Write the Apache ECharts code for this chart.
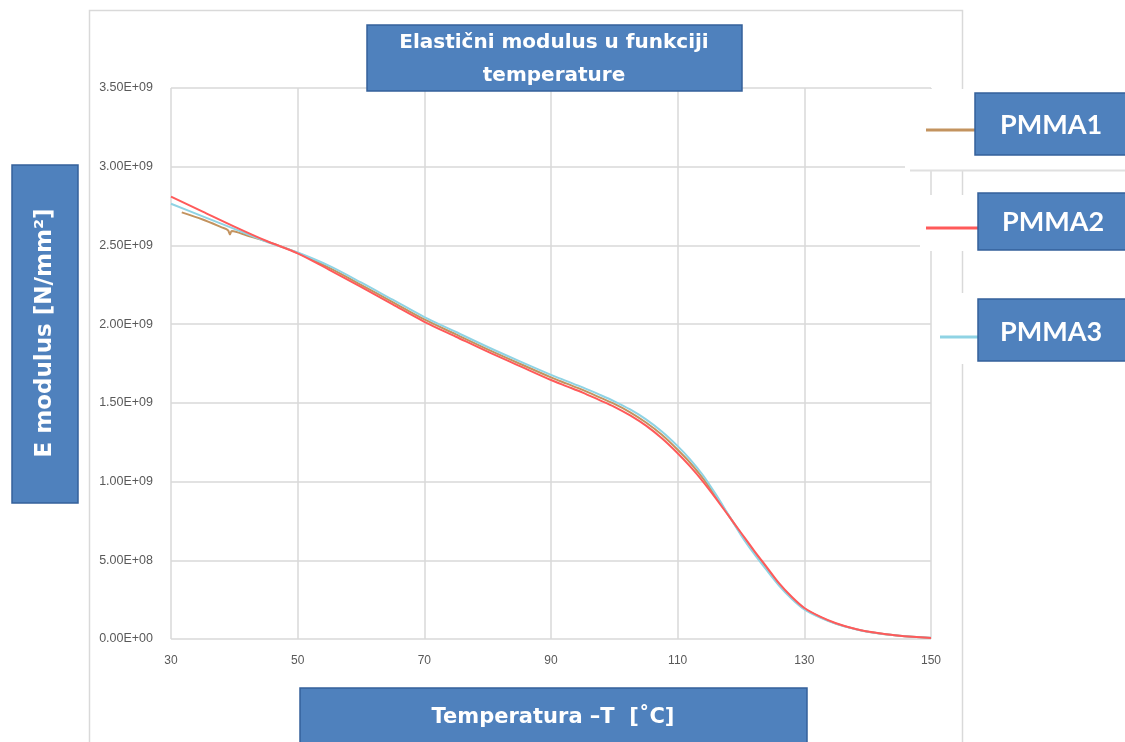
<!DOCTYPE html>
<html>
<head>
<meta charset="utf-8">
<script src="https://cdn.jsdelivr.net/npm/echarts@6/dist/echarts.min.js"></script>
<style>
  html, body { margin: 0; padding: 0; background: #ffffff; }
  #chart { width: 1125px; height: 742px; }
</style>
</head>
<body>
<div id="chart"></div>
<script>
// Temperature axis ticks [°C] and modulus axis ticks [N/mm²]
const xTicks = [30, 50, 70, 90, 110, 130, 150];
const yMin = 0, yMax = 3.5e9, yStep = 0.5e9;

const seriesNames = ['PMMA1', 'PMMA2', 'PMMA3'];
const seriesColors = ['#C3935F', '#FF5A5A', '#8FD3E4'];

// PMMA1 measurement: temperature [°C] and E modulus [N/mm²]
const pmma1Temp = [31.7, 35, 38, 39, 39.3, 39.6, 42, 45,
  50, 55, 60, 65, 70, 75, 80, 85, 90,
  92.5, 95, 97.5, 100, 102.5, 105, 107.5, 110,
  112, 114, 116, 118, 120, 122, 124, 126, 128, 130,
  132.5, 135, 137.5, 140, 145, 150];
const pmma1E = [2.71e9, 2.665e9, 2.615e9, 2.597e9, 2.57e9, 2.592e9, 2.563e9, 2.527e9,
  2.452e9, 2.357e9, 2.25e9, 2.14e9, 2.03e9, 1.935e9, 1.84e9, 1.75e9, 1.662e9,
  1.622e9, 1.582e9, 1.538e9, 1.493e9, 1.44e9, 1.375e9, 1.297e9, 1.202e9,
  1.118e9, 1.02e9, 0.908e9, 0.788e9, 0.668e9, 0.555e9, 0.45e9, 0.348e9, 0.262e9, 0.193e9,
  0.139e9, 0.098e9, 0.069e9, 0.046e9, 0.02e9, 0.007e9];

// PMMA2 and PMMA3 share the same temperature steps
const sharedTemp = [30, 35, 40, 45, 50, 55, 60, 65, 70, 75, 80, 85, 90,
  92.5, 95, 97.5, 100, 102.5, 105, 107.5, 110,
  112, 114, 116, 118, 120, 122, 124, 126, 128, 130,
  132.5, 135, 137.5, 140, 145, 150];
const pmma2E = [2.81e9, 2.715e9, 2.62e9, 2.53e9, 2.45e9, 2.345e9, 2.236e9, 2.125e9, 2.015e9, 1.92e9, 1.825e9, 1.735e9, 1.645e9,
  1.605e9, 1.565e9, 1.52e9, 1.475e9, 1.42e9, 1.355e9, 1.275e9, 1.18e9,
  1.095e9, 1.0e9, 0.895e9, 0.785e9, 0.675e9, 0.565e9, 0.46e9, 0.355e9, 0.268e9, 0.197e9,
  0.142e9, 0.1e9, 0.07e9, 0.047e9, 0.02e9, 0.006e9];
const pmma3E = [2.765e9, 2.685e9, 2.605e9, 2.525e9, 2.455e9, 2.37e9, 2.265e9, 2.155e9, 2.045e9, 1.95e9, 1.855e9, 1.765e9, 1.678e9,
  1.638e9, 1.598e9, 1.555e9, 1.51e9, 1.458e9, 1.395e9, 1.318e9, 1.225e9,
  1.14e9, 1.04e9, 0.92e9, 0.79e9, 0.66e9, 0.545e9, 0.44e9, 0.34e9, 0.256e9, 0.188e9,
  0.136e9, 0.097e9, 0.068e9, 0.046e9, 0.02e9, 0.008e9];

const titleText = 'Elastični modulus u funkciji\ntemperature';
const yTitleText = 'E modulus [N/mm²]';
const xTitleText = 'Temperatura –T  [˚C]';

function pairs(xs, ys) { return xs.map((x, i) => [x, ys[i]]); }

// Excel-style scientific label, e.g. 3.50E+09
function sci(v) {
  if (v === 0) return '0.00E+00';
  const exp = Math.floor(Math.log10(Math.abs(v)) + 1e-9);
  const mant = v / Math.pow(10, exp);
  const sign = exp < 0 ? '-' : '+';
  return mant.toFixed(2) + 'E' + sign + String(Math.abs(exp)).padStart(2, '0');
}

const boxFill = '#4F81BD';
const boxStroke = '#35609A';

function box(x, y, w, h, text, tx, ty, opts) {
  return [{
    type: 'rect', z: 60,
    shape: { x: x, y: y, width: w, height: h },
    style: { fill: boxFill, stroke: boxStroke, lineWidth: 1.5 }
  }, {
    type: 'text', z: 61,
    x: tx, y: ty, rotation: opts.rotation || 0,
    style: {
      text: text, fill: '#ffffff', font: opts.font,
      align: 'center', verticalAlign: 'middle', lineHeight: opts.lineHeight || 24
    }
  }];
}

const legendSlots = [
  { cover: [905, 89, 220, 81], line: [926, 975, 130], box: [975, 93, 160, 62], text: [1051, 125] },
  { cover: [920, 195, 205, 56], line: [926, 978, 228], box: [978, 193, 160, 57], text: [1053, 222] },
  { cover: [935, 293, 190, 71], line: [940, 978, 337], box: [978, 299, 160, 62], text: [1051, 332] }
];

const graphics = [
  // outer chart frame
  { type: 'rect', z: 1, shape: { x: 89.5, y: 10.5, width: 873, height: 780 },
    style: { fill: 'none', stroke: '#d9d9d9', lineWidth: 1.5 } }
];

legendSlots.forEach((s, i) => {
  graphics.push({ type: 'rect', z: 50,
    shape: { x: s.cover[0], y: s.cover[1], width: s.cover[2], height: s.cover[3] },
    style: { fill: '#ffffff' } });
  graphics.push({ type: 'line', z: 55,
    shape: { x1: s.line[0], y1: s.line[2], x2: s.line[1], y2: s.line[2] },
    style: { stroke: seriesColors[i], lineWidth: 3 } });
  box(s.box[0], s.box[1], s.box[2], s.box[3], seriesNames[i], s.text[0], s.text[1],
    { font: 'bold 27px Lato, "Liberation Sans", sans-serif' }).forEach(e => graphics.push(e));
});
graphics.push({ type: 'line', z: 52, shape: { x1: 910, y1: 170.5, x2: 1125, y2: 170.5 },
  style: { stroke: '#e0e0e0', lineWidth: 2 } });

box(367, 25, 375, 66, titleText, 554, 59,
  { font: 'bold 20px "DejaVu Sans", sans-serif', lineHeight: 33 }).forEach(e => graphics.push(e));
box(12, 165, 66, 338, yTitleText, 45, 333,
  { font: 'bold 23px "DejaVu Sans", sans-serif', rotation: Math.PI / 2 }).forEach(e => graphics.push(e));
box(300, 688, 507, 70, xTitleText, 553, 718,
  { font: 'bold 21px "DejaVu Sans", sans-serif' }).forEach(e => graphics.push(e));

const chart = echarts.init(document.getElementById('chart'), null, { renderer: 'canvas' });
chart.setOption({
  animation: false,
  backgroundColor: '#ffffff',
  grid: { left: 171, right: 194, top: 88, bottom: 103, containLabel: false },
  xAxis: {
    type: 'value', min: xTicks[0], max: xTicks[xTicks.length - 1],
    axisLine: { show: false },
    axisTick: { show: false, customValues: xTicks },
    axisLabel: { customValues: xTicks, margin: 16, color: '#595959', fontSize: 12,
      fontFamily: '"Liberation Sans", sans-serif' },
    splitLine: { show: true, lineStyle: { color: '#d9d9d9', width: 1.5 } }
  },
  yAxis: {
    type: 'value', min: yMin, max: yMax, interval: yStep,
    axisLine: { show: false }, axisTick: { show: false },
    axisLabel: { formatter: sci, margin: 18, color: '#595959', fontSize: 12.5,
      fontFamily: '"Liberation Sans", sans-serif' },
    splitLine: { show: true, lineStyle: { color: '#d9d9d9', width: 1.5 } }
  },
  series: [
    { name: seriesNames[0], type: 'line', data: pairs(pmma1Temp, pmma1E), smooth: 0.3,
      showSymbol: false, lineStyle: { color: seriesColors[0], width: 2 }, z: 3 },
    { name: seriesNames[2], type: 'line', data: pairs(sharedTemp, pmma3E), smooth: 0.3,
      showSymbol: false, lineStyle: { color: seriesColors[2], width: 2 }, z: 4 },
    { name: seriesNames[1], type: 'line', data: pairs(sharedTemp, pmma2E), smooth: 0.3,
      showSymbol: false, lineStyle: { color: seriesColors[1], width: 2 }, z: 5 }
  ],
  graphic: { elements: graphics }
});
</script>
</body>
</html>
